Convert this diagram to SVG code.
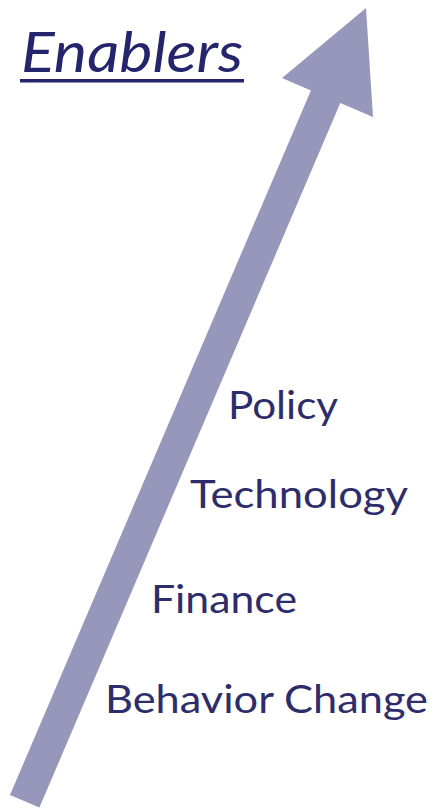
<svg xmlns="http://www.w3.org/2000/svg" width="441" height="808" viewBox="0 0 441 808">
  <style>
    .lbl { font-family: Lato, "Open Sans", "Liberation Sans", sans-serif; font-size: 39px; fill: #2d2d6c; }
    .title { font-family: Lato, "Open Sans", "Liberation Sans", sans-serif; font-size: 57px; font-style: italic; fill: #25256e; }
    .arrow { fill: #9797bb; }
  </style>
  <rect width="441" height="808" fill="#ffffff"/>
  <g id="connectors">
    <polygon class="arrow" points="10,795 310.9,90.4 282,78 366,8 373,117 340.3,103 39.4,807.6"/>
  </g>
  <g id="title">
    <text class="title" x="21" y="72" textLength="222" lengthAdjust="spacingAndGlyphs">Enablers</text>
    <rect x="20" y="79" width="224" height="3.5" fill="#25256e"/>
  </g>
  <g id="policy">
    <text class="lbl" x="228" y="419" textLength="110" lengthAdjust="spacingAndGlyphs">Policy</text>
  </g>
  <g id="technology">
    <text class="lbl" x="190" y="508" textLength="218" lengthAdjust="spacingAndGlyphs">Technology</text>
  </g>
  <g id="finance">
    <text class="lbl" x="151" y="613" textLength="146" lengthAdjust="spacingAndGlyphs">Finance</text>
  </g>
  <g id="behavior-change">
    <text class="lbl" x="105" y="713" textLength="323" lengthAdjust="spacingAndGlyphs">Behavior Change</text>
  </g>
</svg>
